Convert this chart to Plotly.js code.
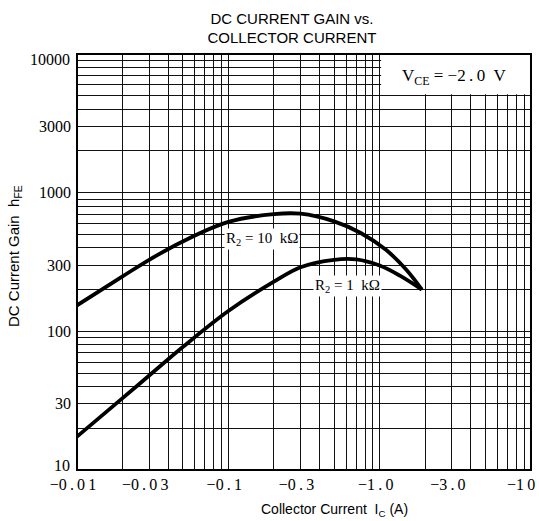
<!DOCTYPE html>
<html><head><meta charset="utf-8">
<script src="https://cdn.plot.ly/plotly-3.0.1.min.js"></script>
<style>html,body{margin:0;padding:0;background:#fff}#chart{width:539px;height:521px}</style>
</head><body><div id="chart"></div>
<script>
// Data (Ic in A, magnitude; hFE)
const ic_r10k  = [0.01, 0.02, 0.03, 0.05, 0.1, 0.2, 0.3, 0.5, 0.75, 1.1, 1.5, 1.9];
const hfe_r10k = [154, 249, 328, 445, 615, 700, 705, 621, 512, 387, 278, 200];
const ic_r1k   = [0.01, 0.02, 0.03, 0.05, 0.1, 0.2, 0.3, 0.5, 0.7, 1.0, 1.36, 1.9];
const hfe_r1k  = [17.4, 33, 48, 77, 140, 228, 290, 328, 330, 298, 252, 200];

const xTickVals = [0.01, 0.03, 0.1, 0.3, 1, 3, 10];
const xTickText = ['\u22120\u2009.\u20090\u20091', '\u22120\u2009.\u20090\u20093', '\u22120\u2009.\u20091', '\u22120\u2009.\u20093', '\u22121\u2009.\u20090', '\u22123\u2009.\u20090', '\u22121\u20090'];
const yTickVals = [10, 30, 100, 300, 1000, 3000, 10000];
const yTickText = ['10', '30', '100', '300', '1000', '3000', '10000'];

function decadeMinor(lo, hi) {
  const v = [];
  for (let d = lo; d < hi; d *= 10) for (let k = 1; k <= 10; k++) v.push(d * k);
  return v;
}
const xMinor = decadeMinor(0.01, 10);
const yMinor = decadeMinor(10, 10000);

const serif = 'Liberation Serif, Times New Roman, serif';
const sans = 'Liberation Sans, Arial, sans-serif';
const W = 454, H = 416;

const traces = [
  {x: ic_r10k, y: hfe_r10k, mode: 'lines', line: {color: '#000', width: 3.8, shape: 'spline', smoothing: 1}, showlegend: false, hoverinfo: 'skip'},
  {x: ic_r1k, y: hfe_r1k, mode: 'lines', line: {color: '#000', width: 3.8, shape: 'spline', smoothing: 1}, showlegend: false, hoverinfo: 'skip'}
];

// inner tick labels via the axes; end labels placed just inside the page as in the reference
const innerY = yTickVals.slice(1, -1), innerYText = yTickText.slice(1, -1);
const innerX = xTickVals.slice(0, -1), innerXText = xTickText.slice(0, -1);
const endAnn = [
  {v: yTickVals[0], t: yTickText[0], dy: 5},
  {v: yTickVals[yTickVals.length - 1], t: yTickText[yTickText.length - 1], dy: -6}
].map(o => ({xref: 'paper', yref: 'paper', x: -5 / W, y: (Math.log10(o.v) - 1) / 3 + o.dy / H,
  xanchor: 'right', yanchor: 'middle', showarrow: false, text: o.t, font: {family: serif, size: 16, color: '#000'}}));
endAnn.push({xref: 'paper', yref: 'paper', x: (Math.log10(xTickVals[xTickVals.length - 1]) + 2) / 3 + 6 / W, y: -14 / H,
  xanchor: 'right', yanchor: 'middle', showarrow: false, text: xTickText[xTickText.length - 1],
  font: {family: serif, size: 16, color: '#000'}});

const layout = {
  width: 539, height: 521,
  margin: {l: 77, r: 8, t: 54, b: 51, pad: 0},
  paper_bgcolor: '#fff', plot_bgcolor: '#fff',
  title: {text: 'DC CURRENT GAIN vs.<br>COLLECTOR CURRENT', font: {family: sans, size: 15, color: '#000'},
          xref: 'paper', x: (292 - 77) / W, xanchor: 'center', yref: 'container', y: 1 - 23.5 / 521, yanchor: 'middle'},
  xaxis: {type: 'log', range: [-2, 1], tickmode: 'array', tickvals: innerX, ticktext: innerXText,
          showgrid: true, gridcolor: '#111', gridwidth: 1, zeroline: false, showline: false, ticks: '',
          ticklabelstandoff: 3, ticklabelshift: -4,
          tickfont: {family: serif, size: 16, color: '#000'},
          minor: {tickmode: 'array', tickvals: xMinor, showgrid: true, gridcolor: '#111', gridwidth: 1, ticks: ''}},
  yaxis: {type: 'log', range: [1, 4], tickmode: 'array', tickvals: innerY, ticktext: innerYText,
          showgrid: true, gridcolor: '#111', gridwidth: 1, zeroline: false, showline: false, ticks: '',
          ticklabelstandoff: 5,
          tickfont: {family: serif, size: 16, color: '#000'},
          minor: {tickmode: 'array', tickvals: yMinor, showgrid: true, gridcolor: '#111', gridwidth: 1, ticks: ''}},
  shapes: [
    {type: 'rect', xref: 'paper', yref: 'paper', x0: 2 / 3 + 1.5 / W, x1: 1, y0: (Math.log10(5000) - 1) / 3 + 1.5 / H, y1: 1,
     fillcolor: '#fff', line: {width: 0}, layer: 'above'},
    {type: 'rect', xref: 'paper', yref: 'paper', x0: 0, x1: 1, y0: 0, y1: 1,
     line: {color: '#000', width: 2}, layer: 'above'}
  ],
  annotations: endAnn.concat([
    {xref: 'paper', yref: 'paper', x: (454 - 77) / W, y: (470 - 77) / H, xanchor: 'center', yanchor: 'middle', showarrow: false,
     text: 'V<sub>CE</sub> = \u22122\u2009.\u20090  V', font: {family: serif, size: 17, color: '#000'}},
    {xref: 'paper', yref: 'paper', x: (262 - 77) / W, y: (470 - 239) / H, xanchor: 'center', yanchor: 'middle', showarrow: false,
     text: 'R<sub>2</sub> = 10  k\u03A9', font: {family: serif, size: 15, color: '#000'}, bgcolor: '#fff', borderpad: 1},
    {xref: 'paper', yref: 'paper', x: (347 - 77) / W, y: (470 - 286) / H, xanchor: 'center', yanchor: 'middle', showarrow: false,
     text: 'R<sub>2</sub> = 1  k\u03A9', font: {family: serif, size: 15, color: '#000'}, bgcolor: '#fff', borderpad: 1},
    {xref: 'paper', yref: 'paper', x: (334 - 77) / W, y: (470 - 510) / H, xanchor: 'center', yanchor: 'middle', showarrow: false,
     text: 'Collector Current  I<sub>C</sub> (A)', font: {family: sans, size: 14, color: '#000'}},
    {xref: 'paper', yref: 'paper', x: (14 - 77) / W, y: (470 - 256) / H, xanchor: 'center', yanchor: 'middle', showarrow: false,
     textangle: -90, text: 'DC Current Gain  h<sub>FE</sub>', font: {family: sans, size: 15, color: '#000'}}
  ])
};

Plotly.newPlot('chart', traces, layout, {staticPlot: true, displayModeBar: false});
</script>
</body></html>
